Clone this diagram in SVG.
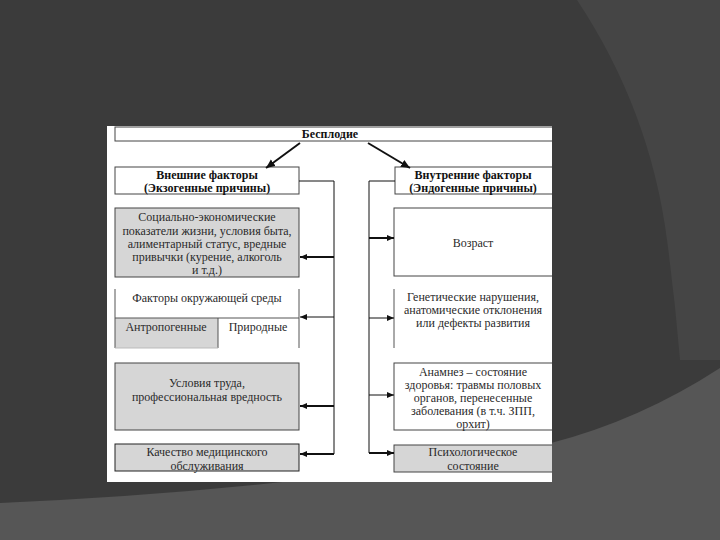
<svg xmlns="http://www.w3.org/2000/svg" width="720" height="540" viewBox="0 0 720 540">
<style>
.t{font-family:"Liberation Serif","Times New Roman","DejaVu Serif",serif;font-size:12px;fill:#2a2a2a;text-anchor:middle}
.b{font-weight:bold;fill:#111}
.box{stroke:#444;stroke-width:1}
.g{fill:#d6d6d6}
.w{fill:#fff}
.ln{stroke:#111;stroke-width:1;fill:none}
.th{stroke:#111;stroke-width:2;fill:none}
</style>
<defs>
<marker id="ah" markerWidth="8" markerHeight="8" refX="7" refY="4" orient="auto" markerUnits="userSpaceOnUse">
<path d="M0,1 L7,4 L0,7 Z" fill="#111"/>
</marker>
<marker id="ah2" markerWidth="10" markerHeight="10" refX="9" refY="5" orient="auto" markerUnits="userSpaceOnUse">
<path d="M0,1 L9,5 L0,9 Z" fill="#111"/>
</marker>
<clipPath id="panel"><rect x="107" y="126" width="445" height="356"/></clipPath>
</defs>
<rect width="720" height="540" fill="#3b3b3b"/>
<path d="M577,0 Q650,110 667,240 Q675,300 680,360 L720,360 L720,0 Z" fill="#454545"/>
<path d="M0,503 Q300,490 551,443 Q640,420 720,368 L720,540 L0,540 Z" fill="#565656"/>
<rect x="107" y="126" width="445" height="356" fill="#fff"/>
<g clip-path="url(#panel)">
<g id="root">
<rect class="box w" x="115" y="127" width="450" height="14"/>
<text class="t b" x="330" y="138">Бесплодие</text>
</g>
<g id="ext">
<rect class="box w" x="115" y="167" width="184" height="27"/>
<text class="t b" x="207" y="179">Внешние факторы</text>
<text class="t b" x="207" y="192">(Экзогенные причины)</text>
</g>
<g id="int">
<rect class="box w" x="395" y="167" width="170" height="27"/>
<text class="t b" x="473" y="179">Внутренние факторы</text>
<text class="t b" x="473" y="192">(Эндогенные причины)</text>
</g>
<g id="socio">
<rect class="box g" x="115" y="208" width="184" height="69"/>
<text class="t" x="207" y="221">Социально-экономические</text>
<text class="t" x="207" y="235">показатели жизни, условия быта,</text>
<text class="t" x="207" y="248">алиментарный статус, вредные</text>
<text class="t" x="207" y="261">привычки (курение, алкоголь</text>
<text class="t" x="207" y="274">и т.д.)</text>
</g>
<g id="env">
<rect x="115" y="318" width="103" height="30" class="g"/>
<path d="M115,289 V348 M299,289 V348 M115,318 H299 M218,318 V348" stroke="#555" stroke-width="1" fill="none"/>
<path d="M115,348 H218" stroke="#bbb" stroke-width="1"/>
<text class="t" x="207" y="302">Факторы окружающей среды</text>
<text class="t" x="166" y="331">Антропогенные</text>
<text class="t" x="258" y="331">Природные</text>
</g>
<g id="work">
<rect class="box g" x="115" y="363" width="184" height="67"/>
<text class="t" x="207" y="387">Условия труда,</text>
<text class="t" x="207" y="401">профессиональная вредность</text>
</g>
<g id="med">
<rect class="g" x="115" y="444" width="184" height="27" stroke="#222" stroke-width="1"/>
<text class="t" x="207" y="456">Качество медицинского</text>
<text class="t" x="207" y="470">обслуживания</text>
</g>
<g id="age">
<rect class="box w" x="394" y="208" width="170" height="68"/>
<text class="t" x="473" y="247">Возраст</text>
</g>
<g id="gen">
<path d="M394,289 V348" stroke="#555" stroke-width="1"/>
<text class="t" x="473" y="301">Генетические нарушения,</text>
<text class="t" x="473" y="314">анатомические отклонения</text>
<text class="t" x="473" y="327">или дефекты развития</text>
</g>
<g id="anam">
<rect class="box w" x="394" y="363" width="170" height="67"/>
<text class="t" x="473" y="376">Анамнез – состояние</text>
<text class="t" x="473" y="389">здоровья: травмы половых</text>
<text class="t" x="473" y="402">органов, перенесенные</text>
<text class="t" x="473" y="415">заболевания (в т.ч. ЗПП,</text>
<text class="t" x="473" y="428">орхит)</text>
</g>
<g id="psy">
<rect class="box g" x="394" y="445" width="170" height="27"/>
<text class="t" x="473" y="456">Психологическое</text>
<text class="t" x="473" y="470">состояние</text>
</g>
</g>
<g id="connectors">
<line class="th" x1="300" y1="143" x2="266" y2="168" marker-end="url(#ah2)"/>
<line class="th" x1="368" y1="143" x2="410" y2="168" marker-end="url(#ah2)"/>
<path class="ln" d="M299,181 H334 V454"/>
<path class="ln" d="M395,181 H369 V453"/>
<line class="th" x1="334" y1="257" x2="300" y2="257" marker-end="url(#ah)"/>
<line class="ln" x1="334" y1="317" x2="300" y2="317" marker-end="url(#ah)"/>
<line class="th" x1="334" y1="406" x2="300" y2="406" marker-end="url(#ah)"/>
<line class="th" x1="334" y1="454" x2="300" y2="454" marker-end="url(#ah)"/>
<line class="th" x1="369" y1="238" x2="394" y2="238" marker-end="url(#ah)"/>
<line class="ln" x1="369" y1="318" x2="394" y2="318" marker-end="url(#ah)"/>
<line class="ln" x1="369" y1="395" x2="394" y2="395" marker-end="url(#ah)"/>
<line class="th" x1="369" y1="453" x2="394" y2="453" marker-end="url(#ah)"/>
</g>
</svg>
